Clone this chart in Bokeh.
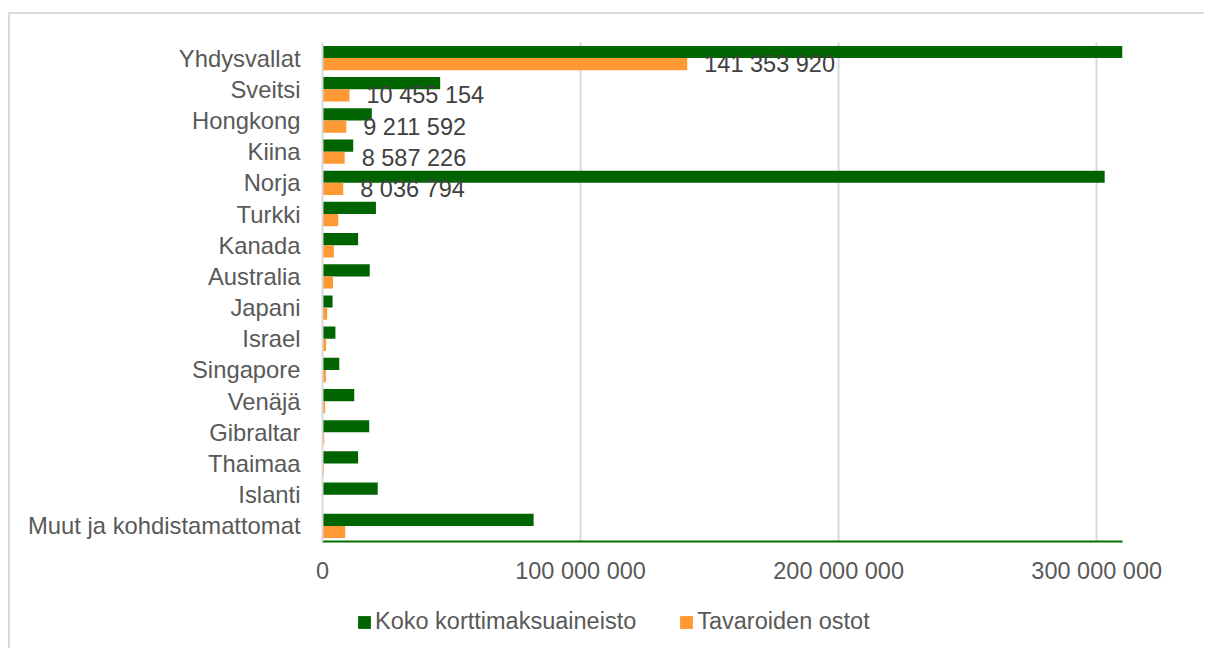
from bokeh.plotting import figure
from bokeh.layouts import column
from bokeh.models import (FactorRange, Range1d, FixedTicker, CustomJSTickFormatter,
                          Legend, LegendItem, ColumnDataSource)
from bokeh.transform import dodge
from bokeh.core.properties import value
from bokeh.embed import file_html
from bokeh.resources import INLINE

countries = ["Yhdysvallat", "Sveitsi", "Hongkong", "Kiina", "Norja", "Turkki", "Kanada",
             "Australia", "Japani", "Israel", "Singapore", "Venäjä", "Gibraltar",
             "Thaimaa", "Islanti", "Muut ja kohdistamattomat"]
koko = [310.0e6, 45.6e6, 19.1e6, 11.9e6, 303.1e6, 20.7e6, 13.8e6, 18.3e6, 3.9e6, 5.0e6,
        6.5e6, 12.3e6, 18.1e6, 13.8e6, 21.4e6, 81.8e6]
tavarat = [141353920, 10455154, 9211592, 8587226, 8036794, 6.1e6, 4.4e6, 4.1e6, 1.8e6,
           1.4e6, 1.3e6, 1.0e6, 0.66e6, 0.5e6, 0.15e6, 8.8e6]
label_countries = countries[:5]
label_values = tavarat[:5]
x_ticks = [0, 100e6, 200e6, 300e6]
x_max = 310e6
series_names = ["Koko korttimaksuaineisto", "Tavaroiden ostot"]

GREEN = "#006400"
ORANGE = "#FF9933"
GRAY = "#595959"
FONT = "Liberation Sans"
FS = "23.5px"
BORDER = "2px solid #d9d9d9"


def fmt(v):
    return "{:,}".format(int(round(v))).replace(",", " ")


src = ColumnDataSource(dict(country=countries, koko=koko, tavarat=tavarat))
lab_src = ColumnDataSource(dict(country=label_countries, val=label_values,
                                txt=[fmt(v) for v in label_values]))

# main chart
p = figure(y_range=FactorRange(*reversed(countries)), x_range=Range1d(0, x_max),
           width=1196, height=577, output_backend="svg", toolbar_location=None,
           min_border_left=312, min_border_right=84, min_border_top=28,
           min_border_bottom=50)
p.margin = (12, 0, 0, 8)
p.styles = {"border-top": BORDER, "border-left": BORDER}
p.outline_line_color = None
p.background_fill_color = "white"
p.border_fill_color = "white"

bh = 0.39
p.hbar(y=dodge("country", 0.195, range=p.y_range), right="koko", height=bh,
       source=src, fill_color=GREEN, line_color=None)
p.hbar(y=dodge("country", -0.195, range=p.y_range), right="tavarat", height=bh,
       source=src, fill_color=ORANGE, line_color=None)

p.text(x="val", y=dodge("country", -0.195, range=p.y_range), text="txt", source=lab_src,
       x_offset=17, y_offset=0, text_baseline="middle", text_align="left",
       text_font=value(FONT), text_font_size=FS, text_color="#404040")

p.xaxis.ticker = FixedTicker(ticks=x_ticks)
p.xaxis.formatter = CustomJSTickFormatter(
    code="return tick.toFixed(0).replace(/\\B(?=(\\d{3})+(?!\\d))/g, ' ');")
p.xaxis.major_tick_line_color = None
p.xaxis.minor_tick_line_color = None
p.xaxis.axis_line_color = "#007000"
p.xaxis.axis_line_width = 2
p.xaxis.major_label_standoff = 10
p.xaxis.major_label_text_font = FONT
p.xaxis.major_label_text_font_size = FS
p.xaxis.major_label_text_color = GRAY

p.yaxis.major_tick_line_color = None
p.yaxis.minor_tick_line_color = None
p.yaxis.axis_line_color = "#d9d9d9"
p.yaxis.axis_line_width = 2
p.yaxis.major_label_standoff = 16
p.yaxis.major_label_text_font = FONT
p.yaxis.major_label_text_font_size = "23.8px"
p.yaxis.major_label_text_color = GRAY

p.xgrid.grid_line_color = "#d9d9d9"
p.xgrid.grid_line_width = 2
p.ygrid.grid_line_color = None

# legend strip below the chart; its renderers are zero-size and lie outside its ranges
p2 = figure(width=1196, height=59, output_backend="svg", toolbar_location=None,
            x_axis_type=None, y_axis_type=None, min_border=0,
            x_range=Range1d(0, x_max), y_range=Range1d(-x_max, 0))
p2.margin = (0, 0, 0, 8)
p2.styles = {"border-left": BORDER}
p2.outline_line_color = None
p2.grid.grid_line_color = None
p2.background_fill_color = "white"
p2.border_fill_color = "white"
lr1 = p2.hbar(y="koko", left="koko", right="koko", height=0, source=src,
              fill_color=GREEN, line_color=None)
lr2 = p2.hbar(y="koko", left="tavarat", right="tavarat", height=0, source=src,
              fill_color=ORANGE, line_color=None)

legend = Legend(items=[LegendItem(label=series_names[0], renderers=[lr1]),
                       LegendItem(label=series_names[1], renderers=[lr2])],
                orientation="horizontal", location=(34, 13),
                glyph_width=16, glyph_height=16, label_standoff=3, spacing=42,
                padding=0, margin=0, border_line_color=None, background_fill_alpha=0,
                label_text_font=FONT, label_text_font_size=FS, label_text_color=GRAY)
p2.add_layout(legend, "center")

layout = column(p, p2, spacing=0)
open("out.html", "w").write(file_html(layout, INLINE))
